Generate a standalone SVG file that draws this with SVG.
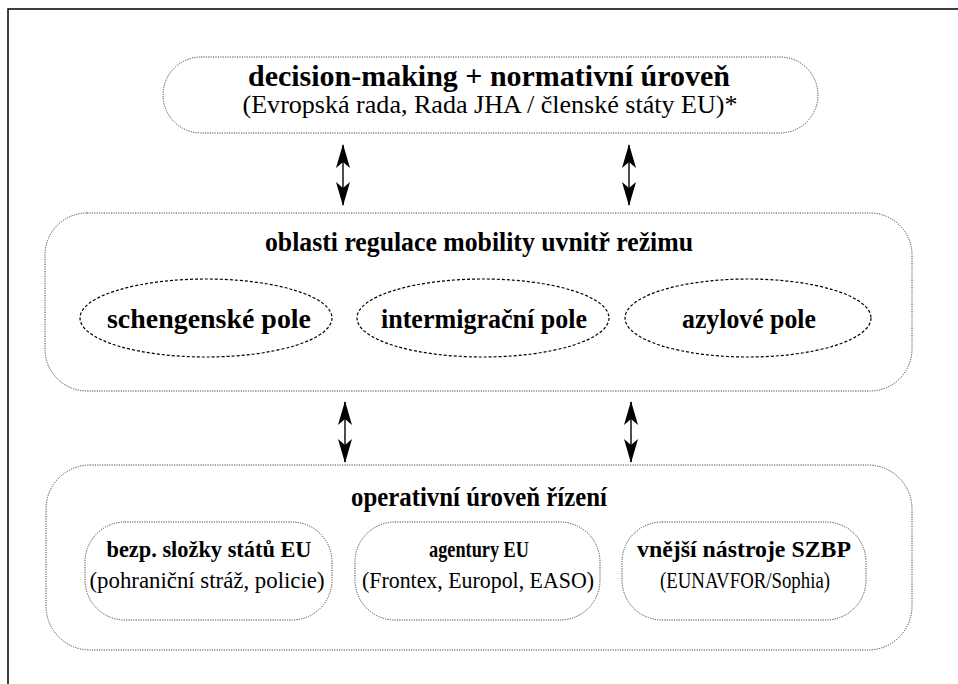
<svg xmlns="http://www.w3.org/2000/svg" width="958" height="684" viewBox="0 0 958 684">
<defs>
<style>
.box{fill:none;stroke:#444;stroke-width:1;stroke-dasharray:1.2 1.2}
.ell{fill:none;stroke:#000;stroke-width:1.2;stroke-dasharray:3 2}
.arr{stroke:#000;stroke-width:1.4;fill:none;marker-start:url(#ah);marker-end:url(#ah)}
</style>
<marker id="ah" viewBox="0 0 24 14" refX="23" refY="7" markerWidth="24" markerHeight="14" markerUnits="userSpaceOnUse" orient="auto-start-reverse">
<path d="M0,0 L24,7 L0,14 L6,7 Z" fill="#000"/>
</marker>
</defs>
<rect x="8" y="9" width="960" height="690" fill="none" stroke="#000" stroke-width="1.5"/>
<g font-family="Liberation Serif" text-anchor="middle" fill="#000">
<g id="top">
<rect class="box" x="163" y="57" width="655" height="76" rx="38"/>
<text x="489" y="86" font-size="29" font-weight="bold" textLength="482" lengthAdjust="spacingAndGlyphs">decision-making + normativní úroveň</text>
<text x="490" y="113" font-size="26" textLength="495" lengthAdjust="spacingAndGlyphs">(Evropská rada, Rada JHA / členské státy EU)*</text>
</g>
<g id="mid">
<rect class="box" x="45" y="213" width="867" height="178" rx="42"/>
<text x="479" y="251" font-size="27" font-weight="bold" textLength="428" lengthAdjust="spacingAndGlyphs">oblasti regulace mobility uvnitř režimu</text>
</g>
<g id="schengen">
<ellipse class="ell" cx="206" cy="318" rx="126" ry="39"/>
<text x="209" y="328" font-size="27" font-weight="bold" textLength="204" lengthAdjust="spacingAndGlyphs">schengenské pole</text>
</g>
<g id="intermig">
<ellipse class="ell" cx="483" cy="318" rx="126" ry="39"/>
<text x="484" y="328" font-size="27" font-weight="bold" textLength="206" lengthAdjust="spacingAndGlyphs">intermigrační pole</text>
</g>
<g id="azyl">
<ellipse class="ell" cx="748" cy="318" rx="123" ry="39"/>
<text x="749" y="328" font-size="27" font-weight="bold" textLength="134" lengthAdjust="spacingAndGlyphs">azylové pole</text>
</g>
<g id="bottom">
<rect class="box" x="46" y="465" width="866" height="185" rx="44"/>
<text x="479" y="506" font-size="27" font-weight="bold" textLength="256" lengthAdjust="spacingAndGlyphs">operativní úroveň řízení</text>
</g>
<g id="bezp">
<rect class="box" x="85" y="522" width="247" height="98" rx="40"/>
<text x="209" y="557" font-size="24" font-weight="bold" textLength="205" lengthAdjust="spacingAndGlyphs">bezp. složky států EU</text>
<text x="207" y="588" font-size="24" textLength="235" lengthAdjust="spacingAndGlyphs">(pohraniční stráž, policie)</text>
</g>
<g id="agentury">
<rect class="box" x="355" y="522" width="245" height="98" rx="40"/>
<text x="479" y="557" font-size="24" font-weight="bold" textLength="100" lengthAdjust="spacingAndGlyphs">agentury EU</text>
<text x="478" y="588" font-size="24" textLength="232" lengthAdjust="spacingAndGlyphs">(Frontex, Europol, EASO)</text>
</g>
<g id="vnejsi">
<rect class="box" x="622" y="522" width="244" height="98" rx="40"/>
<text x="744" y="557" font-size="24" font-weight="bold" textLength="214" lengthAdjust="spacingAndGlyphs">vnější nástroje SZBP</text>
<text x="745" y="588" font-size="24" textLength="170" lengthAdjust="spacingAndGlyphs">(EUNAVFOR/Sophia)</text>
</g>
</g>
<g id="connectors">
<line class="arr" x1="343" y1="145" x2="343" y2="205"/>
<line class="arr" x1="629" y1="145" x2="629" y2="205"/>
<line class="arr" x1="345" y1="402" x2="345" y2="462"/>
<line class="arr" x1="631" y1="402" x2="631" y2="462"/>
</g>
</svg>
